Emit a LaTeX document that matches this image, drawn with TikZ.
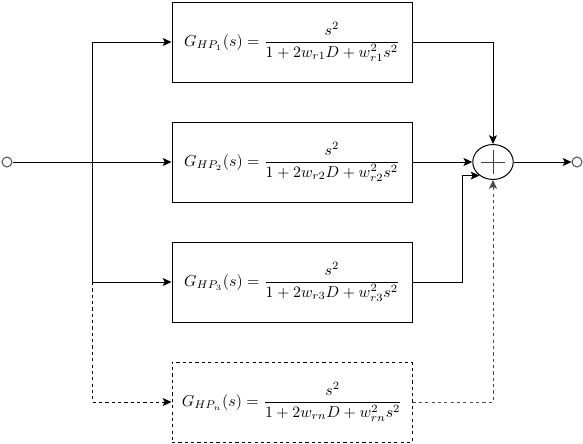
\documentclass[tikz,border=0pt]{standalone}
\usepackage{amsmath}
\usetikzlibrary{arrows.meta, positioning, calc, shapes.geometric}

\begin{document}
\begin{tikzpicture}[
  x=0.63pt, y=-0.63pt, line width=0.63pt,
  hpbox/.style={draw, minimum width=151.2pt, minimum height=50.4pt, inner sep=0pt},
  port/.style={draw=black!70, circle, minimum size=6.3pt, inner sep=0pt},
  sumnode/.style={draw, ellipse, minimum width=25.5pt, minimum height=22pt, inner sep=0pt},
  sig/.style={-{Stealth[length=5.5pt, width=5pt, inset=1.2pt]}},
  opt/.style={dash pattern=on 2pt off 2pt}
]
  \useasboundingbox (0,0) rectangle (583,443);

  % filter bank
  \node[hpbox] (hp1) at (292, 42) {$G_{HP_1}(s) = \dfrac{s^2}{1+2w_{r1}D+w_{r1}^2s^2}$};
  \node[hpbox] (hp2) at (292,162) {$G_{HP_2}(s) = \dfrac{s^2}{1+2w_{r2}D+w_{r2}^2s^2}$};
  \node[hpbox] (hp3) at (292,282) {$G_{HP_3}(s) = \dfrac{s^2}{1+2w_{r3}D+w_{r3}^2s^2}$};
  \node[hpbox, opt] (hpn) at (292,402) {$G_{HP_n}(s) = \dfrac{s^2}{1+2w_{rn}D+w_{rn}^2s^2}$};

  % ports and summing junction
  \node[port] (in) at (7,162) {};
  \node[port] (out) at (577,162) {};
  \node[sumnode] (sum) at (493,162) {};
  \draw[black!75] ($(sum.center)+(-12,0)$) -- ($(sum.center)+(12,0)$);
  \draw[black!75] ($(sum.center)+(0,-12)$) -- ($(sum.center)+(0,12)$);
  \coordinate (split) at (92,162);

  % input side
  \draw[sig] (in) -- (hp2);
  \draw[sig] (split) |- (hp1);
  \draw[sig] (split) |- (hp3);
  \draw[sig, opt] (hp3.west -| split) |- (hpn);

  % output side
  \draw[sig] (hp1) -| (sum);
  \draw[sig] (hp2) -- (sum);
  \draw[sig] (hp3.east) -- ++(50,0) |- (sum.-135);
  \draw[sig, opt, black!70] (hpn) -| (sum);
  \draw[sig] (sum) -- (out);
\end{tikzpicture}
\end{document}
